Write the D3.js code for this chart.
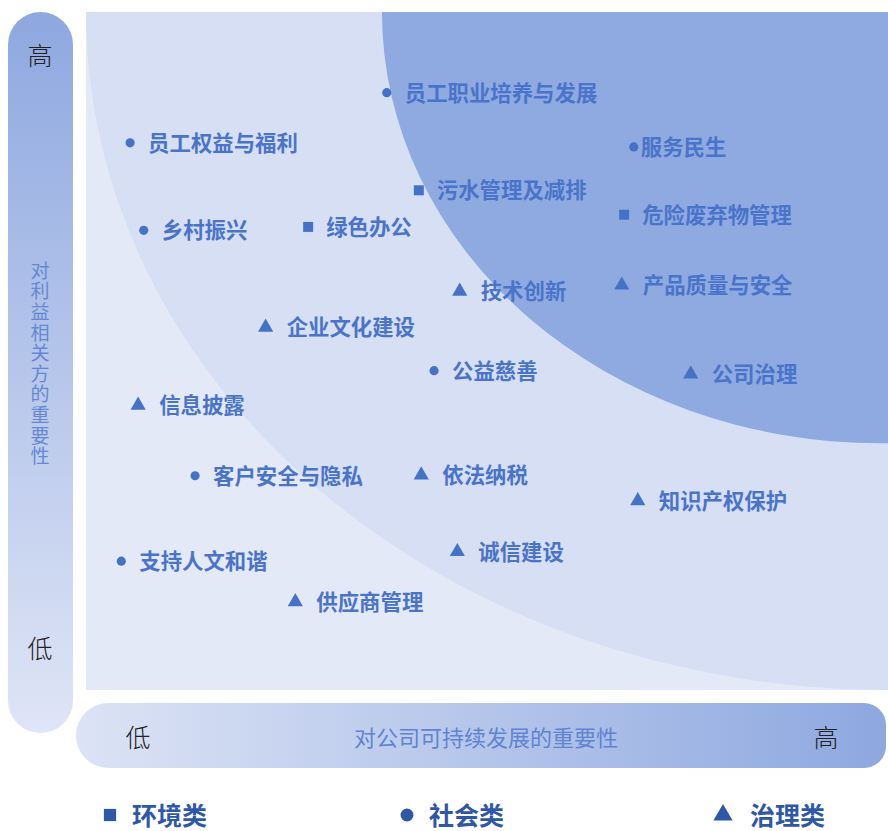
<!DOCTYPE html>
<meta charset="utf-8">
<script src="https://d3js.org/d3.v7.min.js"></script>
<style>
  body { margin: 0; background: #fff; }
  text { font-family: "Noto Sans CJK SC", "Noto Sans", sans-serif; }
</style>
<div id="my_dataviz"></div>
<script>
  // topics on the matrix (x = importance to company, y = importance to stakeholders, 0-10)
  var names = ["员工职业培养与发展", "员工权益与福利", "服务民生", "乡村振兴", "公益慈善", "客户安全与隐私", "支持人文和谐",
               "污水管理及减排", "绿色办公", "危险废弃物管理",
               "技术创新", "产品质量与安全", "企业文化建设", "公司治理", "信息披露", "依法纳税", "知识产权保护", "诚信建设", "供应商管理"];
  var types = ["社会", "社会", "社会", "社会", "社会", "社会", "社会",
               "环境", "环境", "环境",
               "治理", "治理", "治理", "治理", "治理", "治理", "治理", "治理", "治理"];
  var xVals = [3.75, 0.55, 6.83, 0.72, 4.34, 1.36, 0.44,
               4.15, 2.77, 6.71,
               4.66, 6.68, 2.24, 7.54, 0.65, 4.18, 6.88, 4.63, 2.61];
  var yVals = [8.81, 8.07, 8.01, 6.78, 4.71, 3.16, 1.90,
               7.37, 6.83, 7.01,
               5.88, 5.97, 5.35, 4.66, 4.20, 3.17, 2.79, 2.04, 1.30];

  var legendKeys = ["环境", "社会", "治理"];
  var legendLabels = ["环境类", "社会类", "治理类"];
  var axisLow = "低", axisHigh = "高";
  var yTitle = "对利益相关方的重要性";
  var xTitle = "对公司可持续发展的重要性";

  var W = 888, H = 831;
  var plot = { left: 86, right: 888, top: 12, bottom: 690 };

  var svg = d3.select("#my_dataviz")
    .append("svg")
    .attr("width", W)
    .attr("height", H);

  var x = d3.scaleLinear().domain([0, 10]).range([plot.left, plot.right]);
  var y = d3.scaleLinear().domain([0, 10]).range([plot.bottom, plot.top]);

  var defs = svg.append("defs");
  defs.append("clipPath").attr("id", "plotClip")
    .append("rect")
    .attr("x", plot.left).attr("y", plot.top)
    .attr("width", plot.right - plot.left).attr("height", plot.bottom - plot.top);

  var gv = defs.append("linearGradient").attr("id", "gradV")
    .attr("x1", 0).attr("y1", 0).attr("x2", 0).attr("y2", 1);
  gv.append("stop").attr("offset", "0%").attr("stop-color", "#8ea8e0");
  gv.append("stop").attr("offset", "100%").attr("stop-color", "#dfe5f6");

  var gh = defs.append("linearGradient").attr("id", "gradH")
    .attr("x1", 0).attr("y1", 0).attr("x2", 1).attr("y2", 0);
  gh.append("stop").attr("offset", "0%").attr("stop-color", "#dce3f5");
  gh.append("stop").attr("offset", "100%").attr("stop-color", "#8ea8e0");

  // background zones
  var bg = svg.append("g").attr("clip-path", "url(#plotClip)");
  bg.append("rect")
    .attr("x", x(0)).attr("y", y(10))
    .attr("width", x(10) - x(0)).attr("height", y(0) - y(10))
    .attr("fill", "#e4e9f7");
  bg.append("ellipse")
    .attr("cx", x(10)).attr("cy", y(10))
    .attr("rx", x(10) - x(0)).attr("ry", y(0) - y(10))
    .attr("fill", "#d7dff4");
  bg.append("ellipse")
    .attr("cx", x(9.9)).attr("cy", y(10))
    .attr("rx", x(6.21) - x(0)).attr("ry", y(0) - y(6.36))
    .attr("fill", "#8faae1");

  // left axis bar
  var lb = { x: 8, w: 65, top: 12, bottom: 733 };
  svg.append("rect")
    .attr("x", lb.x).attr("y", lb.top)
    .attr("width", lb.w).attr("height", lb.bottom - lb.top)
    .attr("rx", lb.w / 2).attr("ry", lb.w / 2)
    .attr("fill", "url(#gradV)");

  // bottom axis bar: round on the left, softer corners on the right
  var bb = { left: 76, right: 886, top: 703, bottom: 768 };
  var r1 = (bb.bottom - bb.top) / 2, r2 = 22;
  var p = d3.path();
  p.moveTo(bb.left + r1, bb.top);
  p.lineTo(bb.right - r2, bb.top);
  p.arcTo(bb.right, bb.top, bb.right, bb.top + r2, r2);
  p.lineTo(bb.right, bb.bottom - r2);
  p.arcTo(bb.right, bb.bottom, bb.right - r2, bb.bottom, r2);
  p.lineTo(bb.left + r1, bb.bottom);
  p.arc(bb.left + r1, bb.top + r1, r1, Math.PI / 2, 3 * Math.PI / 2);
  p.closePath();
  svg.append("path").attr("d", p.toString()).attr("fill", "url(#gradH)");

  // high / low labels
  var hl = svg.append("g").attr("fill", "#222").attr("font-size", 25).attr("font-weight", 300)
    .attr("text-anchor", "middle").attr("dominant-baseline", "central");
  hl.append("text").attr("x", 40).attr("y", 54).text(axisHigh);
  hl.append("text").attr("x", 40).attr("y", 647).text(axisLow);
  hl.append("text").attr("x", 138).attr("y", 736).text(axisLow);
  hl.append("text").attr("x", 826).attr("y", 736).text(axisHigh);

  // axis titles (vertical one set top to bottom)
  svg.append("text")
    .attr("x", 40).attr("y", 261)
    .style("writing-mode", "vertical-rl")
    .attr("letter-spacing", 1.6)
    .attr("font-size", 19).attr("fill", "#6688d2")
    .text(yTitle);

  svg.append("text")
    .attr("x", 486).attr("y", 736)
    .attr("text-anchor", "middle").attr("dominant-baseline", "central")
    .attr("font-size", 22).attr("fill", "#6084d0")
    .text(xTitle);

  // symbols per category
  var symType = { "环境": d3.symbolSquare, "社会": d3.symbolCircle, "治理": d3.symbolTriangle };
  var symSize = { "环境": 100, "社会": 66, "治理": 100 };

  var points = names.map(function(n, i) {
    return { name: n, type: types[i], x: xVals[i], y: yVals[i] };
  });

  var pts = svg.append("g").selectAll("g")
    .data(points)
    .enter().append("g")
    .attr("transform", function(d) { return "translate(" + x(d.x) + "," + y(d.y) + ")"; });

  pts.append("path")
    .attr("d", function(d) { return d3.symbol().type(symType[d.type]).size(symSize[d.type])(); })
    .attr("fill", "#4672c6");

  pts.append("text")
    .attr("x", function(d) { return d.name === "服务民生" ? 7 : (d.type === "治理" ? 21 : 18); })
    .attr("y", -1.5)
    .attr("dominant-baseline", "central")
    .attr("font-size", 21.4).attr("font-weight", 700)
    .attr("fill", "#4a74c9")
    .text(function(d) { return d.name; });

  // legend
  var legendX = [110, 407, 723];
  var leg = svg.append("g").selectAll("g")
    .data(legendKeys)
    .enter().append("g")
    .attr("transform", function(d, i) { return "translate(" + legendX[i] + ",815)"; });
  leg.append("path")
    .attr("d", function(d) {
      var s = { "环境": 150, "社会": 130, "治理": 160 }[d];
      return d3.symbol().type(symType[d]).size(s)();
    })
    .attr("fill", "#2f57a8");
  leg.append("text")
    .attr("x", function(d, i) { return i === 2 ? 27 : 22; })
    .attr("y", -1)
    .attr("dominant-baseline", "central")
    .attr("font-size", 25).attr("font-weight", 700)
    .attr("fill", "#2f57a8")
    .text(function(d, i) { return legendLabels[i]; });
</script>
